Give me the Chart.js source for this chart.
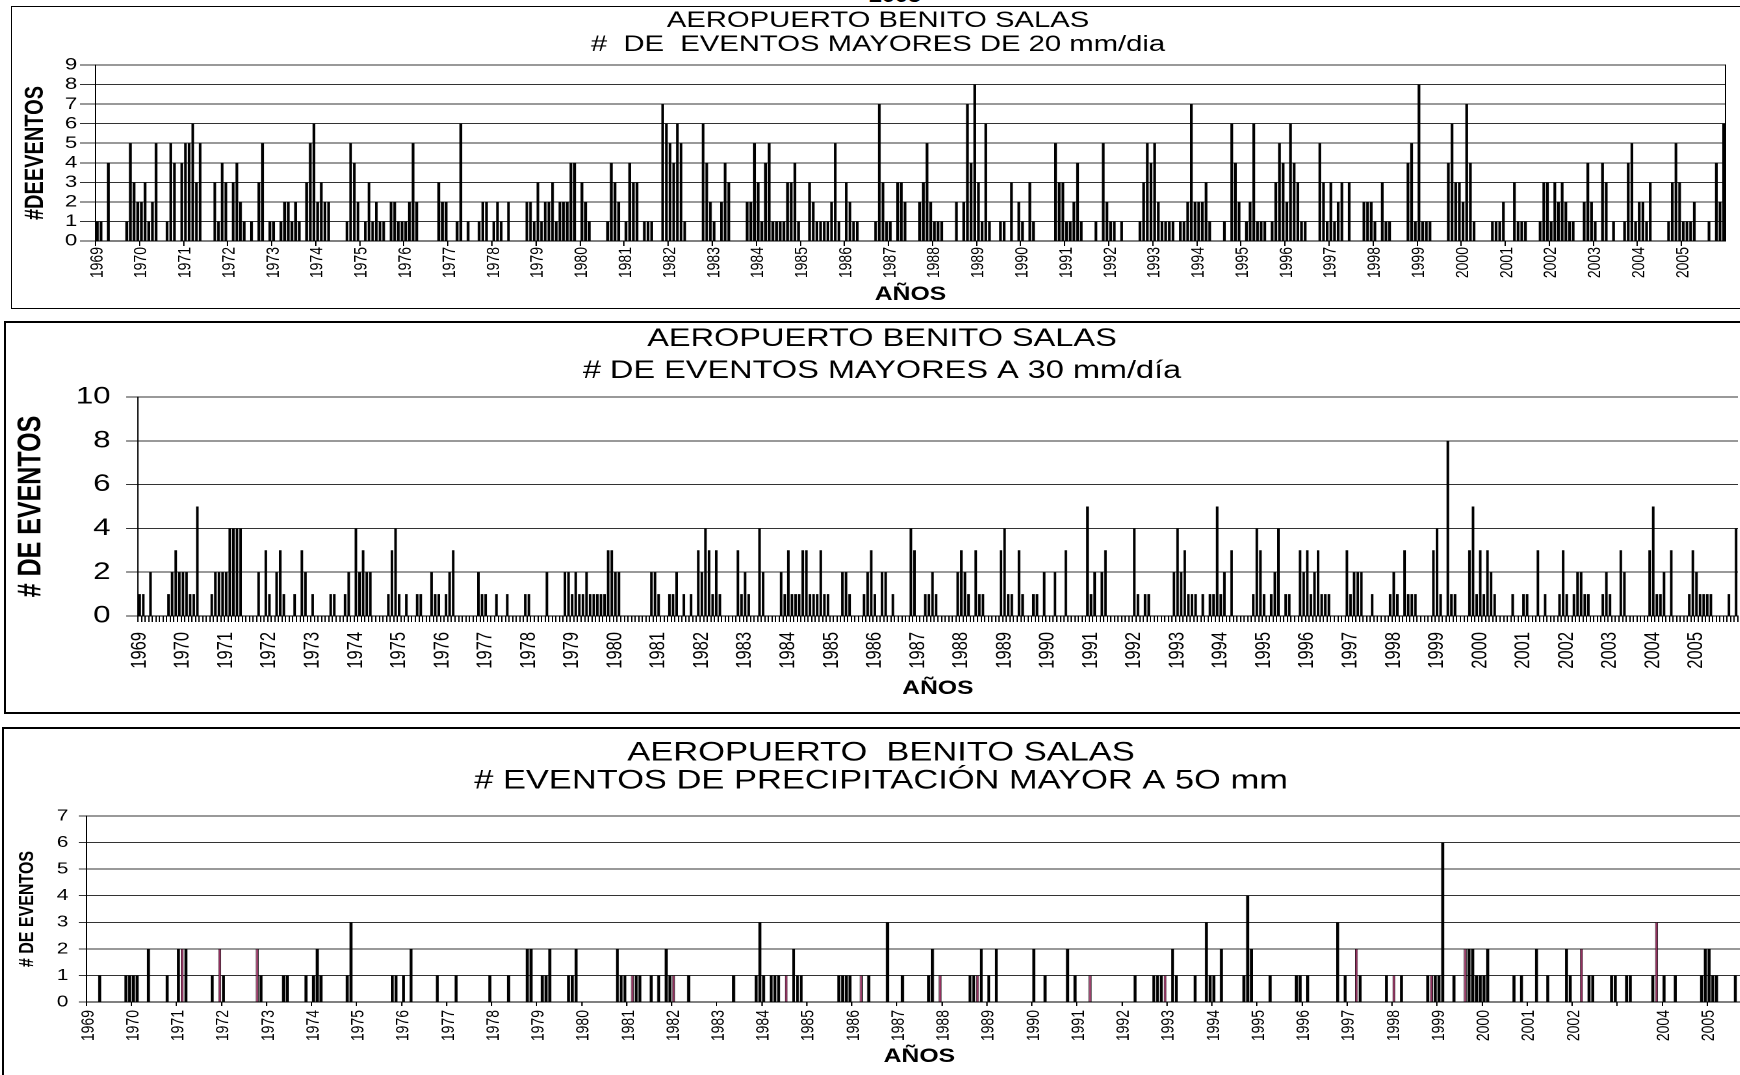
<!DOCTYPE html>
<html>
<head>
<meta charset="utf-8">
<script src="https://cdn.jsdelivr.net/npm/chart.js@4.4.1/dist/chart.umd.min.js"></script>
<style>
  html, body { margin: 0; padding: 0; background: #fff; }
  body { width: 1740px; height: 1075px; overflow: hidden; position: relative; font-family: "Liberation Sans", Arial, sans-serif; }
  canvas { position: absolute; }
  .marco { position: absolute; box-sizing: border-box; border: 2px solid #000; pointer-events: none; }
  #corte { position: absolute; left: 869px; top: -14px; font-weight: bold; font-size: 18px; transform: scaleX(1.3); transform-origin: left top; }
</style>
</head>
<body>
<div id="corte">2005</div>
<canvas id="chart20"></canvas>
<canvas id="chart30"></canvas>
<canvas id="chart50"></canvas>
<div class="marco" style="left:11px;top:6px;width:1760px;height:303px;border-width:1.5px"></div>
<div class="marco" style="left:4px;top:321px;width:1770px;height:393px"></div>
<div class="marco" style="left:2px;top:727px;width:1770px;height:400px"></div>
<script>

  var anios = [1969, 1970, 1971, 1972, 1973, 1974, 1975, 1976, 1977, 1978, 1979, 1980, 1981,
    1982, 1983, 1984, 1985, 1986, 1987, 1988, 1989, 1990, 1991, 1992, 1993, 1994, 1995,
    1996, 1997, 1998, 1999, 2000, 2001, 2002, 2003, 2004, 2005];

  // eventos mensuales > 20 mm/dia (una fila por año, ene..dic)
  var eventos20 = [
    1, 1, 0, 4, 0, 0, 0, 0, 1, 5, 3, 2,
    2, 3, 1, 2, 5, 0, 0, 1, 5, 4, 0, 4,
    5, 5, 6, 3, 5, 0, 0, 0, 3, 1, 4, 3,
    0, 3, 4, 2, 1, 0, 1, 0, 3, 5, 0, 1,
    1, 0, 1, 2, 2, 1, 2, 1, 0, 3, 5, 6,
    2, 3, 2, 2, 0, 0, 0, 0, 1, 5, 4, 2,
    0, 1, 3, 1, 2, 1, 1, 0, 2, 2, 1, 1,
    1, 2, 5, 2, 0, 0, 0, 0, 0, 3, 2, 2,
    0, 0, 1, 6, 0, 1, 0, 0, 1, 2, 2, 0,
    1, 2, 1, 0, 2, 0, 0, 0, 0, 2, 2, 1,
    3, 1, 2, 2, 3, 1, 2, 2, 2, 4, 4, 0,
    3, 2, 1, 0, 0, 0, 0, 1, 4, 3, 2, 0,
    1, 4, 3, 3, 0, 1, 1, 1, 0, 0, 7, 6,
    5, 4, 6, 5, 1, 0, 0, 0, 0, 6, 4, 2,
    1, 0, 2, 4, 3, 0, 0, 0, 0, 2, 2, 5,
    3, 1, 4, 5, 1, 1, 1, 1, 3, 3, 4, 1,
    0, 0, 3, 2, 1, 1, 1, 1, 2, 5, 1, 0,
    3, 2, 1, 1, 0, 0, 0, 0, 1, 7, 3, 1,
    1, 0, 3, 3, 2, 0, 0, 0, 2, 3, 5, 2,
    1, 1, 1, 0, 0, 0, 2, 0, 2, 7, 4, 8,
    3, 1, 6, 1, 0, 0, 1, 1, 0, 3, 0, 2,
    1, 0, 3, 1, 0, 0, 0, 0, 0, 5, 3, 3,
    1, 1, 2, 4, 1, 0, 0, 0, 1, 0, 5, 2,
    1, 1, 0, 1, 0, 0, 0, 0, 1, 3, 5, 4,
    5, 2, 1, 1, 1, 1, 0, 1, 1, 2, 7, 2,
    2, 2, 3, 1, 0, 0, 0, 1, 0, 6, 4, 2,
    0, 1, 2, 6, 1, 1, 1, 0, 1, 3, 5, 4,
    2, 6, 4, 3, 1, 1, 0, 0, 0, 5, 3, 1,
    3, 1, 2, 3, 0, 3, 0, 0, 0, 2, 2, 2,
    1, 0, 3, 1, 1, 0, 0, 0, 0, 4, 5, 1,
    8, 1, 1, 1, 0, 0, 0, 0, 4, 6, 3, 3,
    2, 7, 4, 1, 0, 0, 0, 0, 1, 1, 1, 2,
    0, 0, 3, 1, 1, 1, 0, 0, 0, 1, 3, 3,
    1, 3, 2, 3, 2, 1, 1, 0, 0, 2, 4, 2,
    1, 0, 4, 3, 0, 1, 0, 0, 1, 4, 5, 1,
    2, 2, 1, 3, 0, 0, 0, 0, 1, 3, 5, 3,
    1, 1, 1, 2, 0, 0, 0, 1, 0, 4, 2, 6
  ];

  // eventos mensuales > 30 mm/dia
  var eventos30 = [
    1, 1, 0, 2, 0, 0, 0, 0, 1, 2, 3, 2,
    2, 2, 1, 1, 5, 0, 0, 0, 1, 2, 2, 2,
    2, 4, 4, 4, 4, 0, 0, 0, 0, 2, 0, 3,
    1, 0, 2, 3, 1, 0, 0, 1, 0, 3, 2, 0,
    1, 0, 0, 0, 0, 1, 1, 0, 0, 1, 2, 0,
    4, 2, 3, 2, 2, 0, 0, 0, 0, 1, 3, 4,
    1, 0, 1, 0, 0, 1, 1, 0, 0, 2, 1, 1,
    0, 1, 2, 3, 0, 0, 0, 0, 0, 0, 2, 1,
    1, 0, 0, 1, 0, 0, 1, 0, 0, 0, 0, 1,
    1, 0, 0, 0, 0, 2, 0, 0, 0, 0, 2, 2,
    1, 2, 1, 1, 2, 1, 1, 1, 1, 1, 3, 3,
    2, 2, 0, 0, 0, 0, 0, 0, 0, 0, 2, 2,
    1, 0, 0, 1, 1, 2, 0, 1, 0, 1, 0, 3,
    2, 4, 3, 1, 3, 1, 0, 0, 0, 0, 3, 1,
    2, 1, 0, 0, 4, 2, 0, 0, 0, 0, 2, 1,
    3, 1, 1, 1, 3, 3, 1, 1, 1, 3, 1, 1,
    0, 0, 0, 2, 2, 1, 0, 0, 0, 1, 2, 3,
    1, 0, 2, 2, 0, 1, 0, 0, 0, 0, 4, 3,
    0, 0, 1, 1, 2, 1, 0, 0, 0, 0, 0, 2,
    3, 2, 1, 0, 3, 1, 1, 0, 0, 0, 0, 3,
    4, 1, 1, 0, 3, 1, 0, 0, 1, 1, 0, 2,
    0, 0, 2, 0, 0, 3, 0, 0, 0, 0, 0, 5,
    1, 2, 0, 2, 3, 0, 0, 0, 0, 0, 0, 0,
    4, 1, 0, 1, 1, 0, 0, 0, 0, 0, 0, 2,
    4, 2, 3, 1, 1, 1, 0, 1, 0, 1, 1, 5,
    1, 2, 0, 3, 0, 0, 0, 0, 0, 1, 4, 3,
    1, 0, 1, 2, 4, 0, 1, 1, 0, 0, 3, 2,
    3, 1, 2, 3, 1, 1, 1, 0, 0, 0, 0, 3,
    1, 2, 2, 2, 0, 0, 1, 0, 0, 0, 0, 1,
    2, 1, 0, 3, 1, 1, 1, 0, 0, 0, 0, 3,
    4, 1, 0, 8, 1, 1, 0, 0, 0, 3, 5, 1,
    3, 1, 3, 2, 1, 0, 0, 0, 0, 1, 0, 0,
    1, 1, 0, 0, 3, 0, 1, 0, 0, 0, 1, 3,
    1, 0, 1, 2, 2, 1, 1, 0, 0, 0, 1, 2,
    1, 0, 0, 3, 2, 0, 0, 0, 0, 0, 0, 3,
    5, 1, 1, 2, 0, 3, 0, 0, 0, 0, 1, 3,
    2, 1, 1, 1, 1, 0, 0, 0, 0, 1, 0, 4
  ];

  // eventos mensuales > 50 mm
  var eventos50 = [
    0, 0, 0, 1, 0, 0, 0, 0, 0, 0, 1, 1,
    1, 1, 0, 0, 2, 0, 0, 0, 0, 1, 0, 0,
    2, 2, 2, 0, 0, 0, 0, 0, 0, 1, 0, 2,
    1, 0, 0, 0, 0, 0, 0, 0, 0, 2, 1, 0,
    0, 0, 0, 0, 1, 1, 0, 0, 0, 0, 1, 0,
    1, 2, 1, 0, 0, 0, 0, 0, 0, 1, 3, 0,
    0, 0, 0, 0, 0, 0, 0, 0, 0, 1, 1, 0,
    1, 0, 2, 0, 0, 0, 0, 0, 0, 1, 0, 0,
    0, 0, 1, 0, 0, 0, 0, 0, 0, 0, 0, 1,
    0, 0, 0, 0, 1, 0, 0, 0, 0, 2, 2, 0,
    0, 1, 1, 2, 0, 0, 0, 0, 1, 1, 2, 0,
    0, 0, 0, 0, 0, 0, 0, 0, 0, 2, 1, 1,
    0, 1, 1, 1, 0, 0, 1, 0, 1, 0, 2, 1,
    1, 0, 0, 0, 1, 0, 0, 0, 0, 0, 0, 0,
    0, 0, 0, 0, 1, 0, 0, 0, 0, 0, 1, 3,
    1, 0, 1, 1, 1, 0, 1, 0, 2, 1, 1, 0,
    0, 0, 0, 0, 0, 0, 0, 0, 1, 1, 1, 1,
    0, 0, 1, 0, 1, 0, 0, 0, 0, 3, 0, 0,
    0, 1, 0, 0, 0, 0, 0, 0, 1, 2, 0, 1,
    0, 0, 0, 0, 0, 0, 0, 1, 1, 1, 2, 0,
    1, 0, 2, 0, 0, 0, 0, 0, 0, 0, 0, 0,
    2, 0, 0, 1, 0, 0, 0, 0, 0, 2, 0, 1,
    0, 0, 0, 1, 0, 0, 0, 0, 0, 0, 0, 0,
    0, 0, 0, 1, 0, 0, 0, 0, 1, 1, 1, 1,
    0, 2, 1, 0, 0, 0, 0, 1, 0, 0, 3, 1,
    1, 0, 2, 0, 0, 0, 0, 0, 1, 4, 2, 0,
    0, 0, 0, 1, 0, 0, 0, 0, 0, 0, 1, 1,
    0, 1, 0, 0, 0, 0, 0, 0, 0, 3, 0, 1,
    0, 0, 2, 1, 0, 0, 0, 0, 0, 0, 1, 0,
    1, 0, 1, 0, 0, 0, 0, 0, 0, 1, 1, 1,
    1, 6, 0, 0, 1, 0, 0, 2, 2, 2, 1, 1,
    1, 2, 0, 0, 0, 0, 0, 0, 1, 0, 1, 0,
    0, 0, 2, 0, 0, 1, 0, 0, 0, 0, 2, 1,
    0, 0, 2, 0, 1, 1, 0, 0, 0, 0, 1, 1,
    0, 0, 1, 1, 0, 0, 0, 0, 0, 1, 3, 0,
    1, 0, 0, 1, 0, 0, 0, 0, 0, 0, 1, 2,
    2, 1, 1, 0, 0, 0, 0, 1, 0, 0, 0, 0
  ];

  // meses que en el original salen con relleno granate
  var rosados50 = ['1971-02', '1971-12', '1972-10', '1981-02', '1982-01', '1984-07', '1986-03',
    '1987-12', '1988-10', '1991-04', '1992-12', '1997-03', '1998-01', '1998-11', '1999-08',
    '2002-03', '2003-11'];
  // el tercer grafico no rotula 2003
  var sinEtiqueta50 = ['2003'];

  var meses = [];
  anios.forEach(function (a) {
    for (var m = 1; m <= 12; m++) {
      meses.push(a + '-' + (m < 10 ? '0' + m : m));
    }
  });

  // la figura original esta estirada a lo ancho
  var ESTIRA = 1.3;

  Chart.defaults.font.family = '"Liberation Sans", Arial, sans-serif';
  Chart.defaults.color = '#000';

  function esEnero(i) {
    return i < meses.length && meses[i].slice(5) === '01';
  }

  function crearPanel(id, caja, p) {
    var canvas = document.getElementById(id);
    var w = Math.round(caja.w / ESTIRA);
    canvas.width = w;
    canvas.height = caja.h;
    canvas.style.left = caja.x + 'px';
    canvas.style.top = caja.y + 'px';
    canvas.style.width = (w * ESTIRA) + 'px';
    canvas.style.height = caja.h + 'px';

    var colorTick = p.ticksMensuales ? '#000' : function (c) { return esEnero(c.index) ? '#000' : 'rgba(0,0,0,0)'; };

    return new Chart(canvas, {
      type: 'bar',
      data: {
        labels: meses,
        datasets: [{
          data: p.datos,
          yAxisID: 'y',
          backgroundColor: p.relleno || '#000',
          borderColor: '#000',
          borderWidth: p.borde || 0,
          barPercentage: p.barra,
          categoryPercentage: 1
        }]
      },
      options: {
        responsive: false,
        devicePixelRatio: 2,
        animation: false,
        events: [],
        layout: { padding: 0 },
        plugins: {
          legend: { display: false },
          tooltip: { enabled: false },
          title: {
            display: true,
            text: p.titulo,
            color: '#000',
            font: { size: p.tFont, weight: 'normal', lineHeight: p.tLinea },
            padding: { top: p.tArriba, bottom: p.tAbajo }
          }
        },
        scales: {
          x: {
            grid: { drawOnChartArea: false, drawTicks: true, tickLength: p.xTick, color: colorTick, tickColor: colorTick, lineWidth: 1 },
            border: { display: true, color: '#000', width: 1 },
            ticks: {
              autoSkip: false, minRotation: 90, maxRotation: 90,
              padding: p.xPad, font: { size: p.xFont },
              callback: function (v, i) {
                if (!esEnero(i)) { return ''; }
                var anio = meses[i].slice(0, 4);
                return (p.ocultar || []).indexOf(anio) >= 0 ? '' : anio;
              }
            },
            title: { display: true, text: 'AÑOS', color: '#000', font: { size: 19, weight: 'bold', lineHeight: 1.2 }, padding: { top: 0, bottom: p.aPad } },
            afterFit: function (s) {
              s.height = p.xAlto;
              s.paddingLeft = 0;
              s.paddingRight = 0;
            }
          },
          y: {
            min: 0, max: p.maxY,
            ticks: { stepSize: p.paso, autoSkip: false, padding: p.yPad, font: { size: p.yFont } },
            grid: { color: '#333', lineWidth: 1, drawTicks: true, tickLength: p.yTick },
            border: { display: true, color: '#000', width: 1 },
            title: { display: true, text: p.yTitulo, color: '#000', font: { size: p.yTFont, weight: 'bold', lineHeight: 1.2 }, padding: { top: p.yTPad, bottom: 0 } },
            afterFit: function (s) { s.width = p.yAncho; }
          },
          yDer: {
            type: 'linear', position: 'right',
            grid: { display: false }, ticks: { display: false },
            border: { display: !!p.marcoDer, color: '#000', width: 1 },
            afterFit: function (s) { s.width = p.derAncho; }
          }
        }
      }
    });
  }

  crearPanel('chart20', { x: 11, y: 6, w: 1734, h: 303 }, {
    datos: eventos20, barra: 0.75,
    titulo: ['AEROPUERTO BENITO SALAS', '#  DE  EVENTOS MAYORES DE 20 mm/dia'],
    tFont: 22.5, tLinea: 24 / 22.5, tArriba: 3, tAbajo: 8,
    maxY: 9, paso: 1, yFont: 17, yPad: 2, yTick: 12, yAncho: 65,
    yTitulo: '#DEEVENTOS', yTFont: 20, yTPad: 7,
    xFont: 14, xTick: 5, xPad: 1, xAlto: 68, aPad: 3,
    derAncho: 15, marcoDer: true
  });

  crearPanel('chart30', { x: 4, y: 321, w: 1756, h: 392 }, {
    datos: eventos30, barra: 0.72,
    titulo: ['AEROPUERTO BENITO SALAS', '# DE EVENTOS MAYORES A 30 mm/día'],
    tFont: 25, tLinea: 32 / 25, tArriba: 2, tAbajo: 10,
    maxY: 10, paso: 2, yFont: 24, yPad: 12, yTick: 9, yAncho: 103,
    yTitulo: '# DE EVENTOS', yTFont: 25, yTPad: 6,
    xFont: 16.5, xTick: 6, xPad: 10, xAlto: 97, aPad: 13,
    derAncho: 17, ticksMensuales: true
  });

  var esRosado = function (c) { return rosados50.indexOf(meses[c.dataIndex]) >= 0; };

  crearPanel('chart50', { x: 2, y: 727, w: 1758, h: 348 }, {
    datos: eventos50, barra: 0.8,
    relleno: function (c) { return esRosado(c) ? '#93305f' : '#000'; },
    borde: function (c) { return esRosado(c) ? 0.5 : 0; },
    titulo: ['AEROPUERTO  BENITO SALAS', '# EVENTOS DE PRECIPITACIÓN MAYOR A 5O mm'],
    tFont: 26.5, tLinea: 28 / 26.5, tArriba: 12, tAbajo: 21,
    maxY: 7, paso: 1, yFont: 16, yPad: 8, yTick: 6, yAncho: 65,
    yTitulo: '# DE EVENTOS', yTFont: 16, yTPad: 10,
    xFont: 14, xTick: 4, xPad: 4, xAlto: 73, aPad: 7,
    derAncho: 6, ocultar: sinEtiqueta50
  });

</script>
</body>
</html>
